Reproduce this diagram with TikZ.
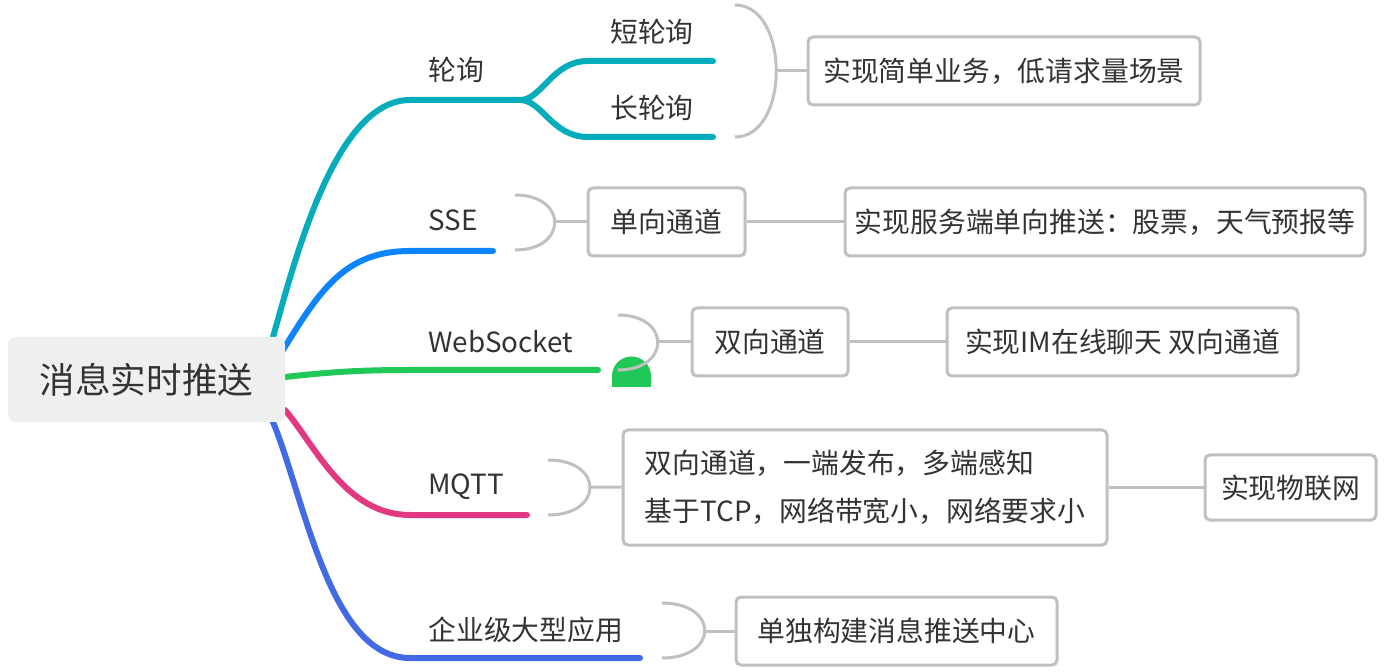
\documentclass[tikz,border=0pt]{standalone}
\usepackage{fontspec}
\setmainfont{Noto Sans CJK SC}
\definecolor{ink}{RGB}{51,51,51}
\definecolor{wire}{RGB}{192,192,192}
\definecolor{rootgray}{RGB}{238,240,239}
\definecolor{pollteal}{RGB}{4,172,188}
\definecolor{sseblue}{RGB}{12,132,255}
\definecolor{wsgreen}{RGB}{32,200,88}
\definecolor{mqttpink}{RGB}{226,56,130}
\definecolor{entblue}{RGB}{66,106,228}

\begin{document}
\begin{tikzpicture}[x=0.5pt,y=-0.5pt]
			\tikzstyle{every node}=[text=ink,font=\fontsize{13.9pt}{24pt}\selectfont]
			\tikzstyle{branch}=[line width=3pt,line cap=round]
			\tikzstyle{link}=[draw=wire,line width=1.5pt]
			\tikzstyle{leaf}=[draw=wire,line width=1.5pt,rounded corners=2.5pt,
			fill=white,minimum height=34pt]
			\tikzstyle{topic}=[anchor=west,inner sep=0pt]
			\useasboundingbox (0,0) rectangle (1384,672);
			% branch ends
			\coordinate (pollroot) at (273,337);
			\coordinate (pollfork) at (520,100);
			\coordinate (shortend) at (713,61);
			\coordinate (longend) at (713,137);
			\coordinate (sseroot) at (283,350);
			\coordinate (sseend) at (493,251);
			\coordinate (wsroot) at (285,377);
			\coordinate (wsend) at (598,370);
			\coordinate (mqttroot) at (285,410);
			\coordinate (mqttend) at (527,515);
			\coordinate (entroot) at (273,422);
			\coordinate (entend) at (640,658);
			\draw[branch,pollteal] (pollroot) .. controls (295,260) and (335,100) .. (410,100) -- (pollfork);
			\draw[branch,pollteal] (pollfork) .. controls (542,100) and (552,61) .. (588,61) -- (shortend);
			\draw[branch,pollteal] (pollfork) .. controls (542,100) and (552,137) .. (588,137) -- (longend);
			\draw[branch,sseblue] (sseroot) .. controls (320,290) and (345,251) .. (410,251) -- (sseend);
			\draw[branch,wsgreen] (wsroot) .. controls (330,372) and (360,370) .. (410,370) -- (wsend);
			\draw[branch,mqttpink] (mqttroot) .. controls (315,445) and (345,515) .. (410,515) -- (mqttend);
			\draw[branch,entblue] (entroot) .. controls (305,500) and (330,658) .. (410,658) -- (entend);
			\node[fill=rootgray,rounded corners=4pt,minimum width=138.5pt,minimum height=42.5pt,
			font=\fontsize{17.8pt}{20pt}\selectfont] (root) at (146.5,379.5) {消息实时推送};
			% labels
			\node[topic] (poll) at (428,70) {轮询};
			\node (short) at (652,32) {短轮询};
			\node (long) at (652,108) {长轮询};
			\node[topic] (sse) at (428,220) {SSE};
			\node[topic] (ws) at (428,342) {WebSocket};
			\node[topic] (mqtt) at (428,487) {MQTT};
			\node[topic] (ent) at (428,630) {企业级大型应用};
			\fill[wsgreen] (612,387) -- (612,376) arc (180:360:19.5) -- (651,387) -- cycle;
			% brackets
			\coordinate (pollbrace) at (776,71);
			\coordinate (ssebrace) at (555,222);
			\coordinate (wsbrace) at (658,342);
			\coordinate (mqttbrace) at (590,487);
			\coordinate (entbrace) at (705,631);
			\draw[link] (735,5) .. controls (790,5) and (790,137) .. (735,137);
			\draw[link] (515,195) .. controls (568,195) and (568,250) .. (515,250);
			\draw[link] (618,315) .. controls (671,315) and (671,370) .. (618,370);
			\draw[link] (548,460) .. controls (604,460) and (604,515) .. (548,515);
			\draw[link] (662,603) .. controls (719,603) and (719,658) .. (662,658);
			% boxes
			\node[leaf,minimum width=196pt] (pollnote) at (1004,71) {实现简单业务，低请求量场景};
			\node[leaf,minimum width=78.5pt] (sseone) at (666.5,222) {单向通道};
			\node[leaf,minimum width=260pt] (ssenote) at (1105,222) {实现服务端单向推送：股票，天气预报等};
			\node[leaf,minimum width=78pt] (wsone) at (770,342) {双向通道};
			\node[leaf,minimum width=175.5pt] (wsnote) at (1122.5,342) {实现IM在线聊天 双向通道};
			\node[leaf,minimum width=242pt,minimum height=57.5pt,align=left] (mqttone) at (865,487.5)
			{双向通道，一端发布，多端感知\\基于TCP，网络带宽小，网络要求小};
			\node[leaf,minimum width=85.5pt,minimum height=32.5pt] (mqttnote) at (1290.5,487.5) {实现物联网};
			\node[leaf,minimum width=160.5pt] (entnote) at (896.5,631) {单独构建消息推送中心};
			\draw[link] (pollbrace) -- (pollnote);
			\draw[link] (ssebrace) -- (sseone);
			\draw[link] (sseone) -- (ssenote);
			\draw[link] (wsbrace) -- (wsone);
			\draw[link] (wsone) -- (wsnote);
			\draw[link] (mqttbrace) -- (mqttone);
			\draw[link] (mqttone) -- (mqttnote);
			\draw[link] (entbrace) -- (entnote);
\end{tikzpicture}
\end{document}
